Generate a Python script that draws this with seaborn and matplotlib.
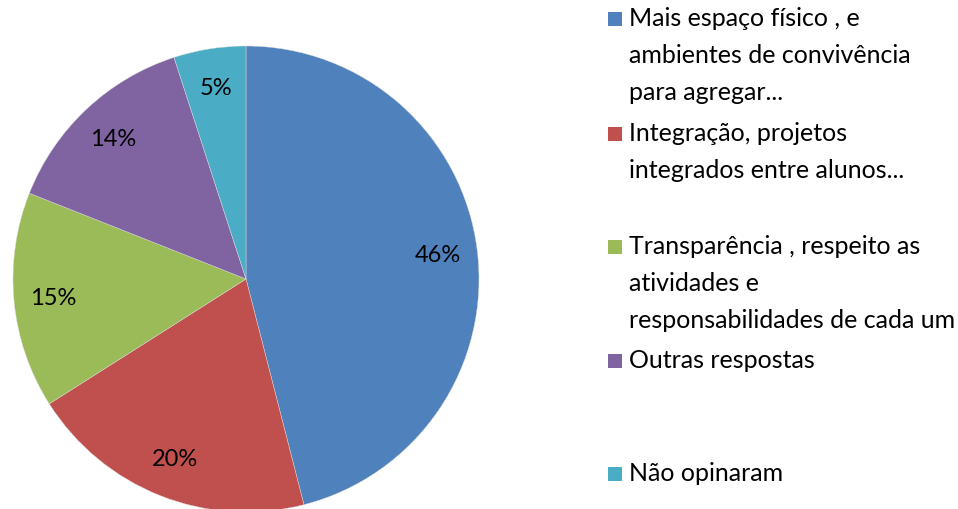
import seaborn as sns
import matplotlib.pyplot as plt
from matplotlib.patches import Rectangle

categorias = [
    "Mais espaço físico , e\nambientes de convivência\npara agregar...",
    "Integração, projetos\nintegrados entre alunos...",
    "Transparência , respeito as\natividades e\nresponsabilidades de cada um",
    "Outras respostas",
    "Não opinaram",
]
valores = [46, 20, 15, 14, 5]
cores = ["#4F81BD", "#C0504D", "#9BBB59", "#8064A2", "#4BACC6"]

sns.set_theme(style="white")
plt.rcParams["font.family"] = ["Lato", "DejaVu Sans"]

W, H = 958, 510
fig = plt.figure(figsize=(W / 100, H / 100), dpi=100)

# pizza: centro (246, 280), raio 233 px
cx, cy, r = 246, 280, 233
ax = fig.add_axes([(cx - r) / W, (H - cy - r) / H, 2 * r / W, 2 * r / H])
wedges, _, autotexts = ax.pie(
    valores, colors=cores, startangle=90, counterclock=False,
    autopct="%1.0f%%", pctdistance=0.83, radius=1,
    wedgeprops=dict(linewidth=0.3, edgecolor="#dddddd"),
    textprops=dict(fontsize=17, color="black"),
)
ax.set_xlim(-1, 1)
ax.set_ylim(-1, 1)
ax.set_aspect("equal")
ax.axis("off")

# legenda (posições das entradas como no original)
y_topo = [20, 135, 248, 362, 475]
for cat, cor, y in zip(categorias, cores, y_topo):
    fig.patches.append(Rectangle((608 / W, 1 - (y + 7) / H), 14 / W, 14 / H,
                                 facecolor=cor, edgecolor="none",
                                 transform=fig.transFigure))
    fig.text(629 / W, 1 - (y - 13) / H, cat, fontsize=18, va="top", ha="left",
             linespacing=1.73, color="black")

fig.savefig("out.png", dpi=100)
